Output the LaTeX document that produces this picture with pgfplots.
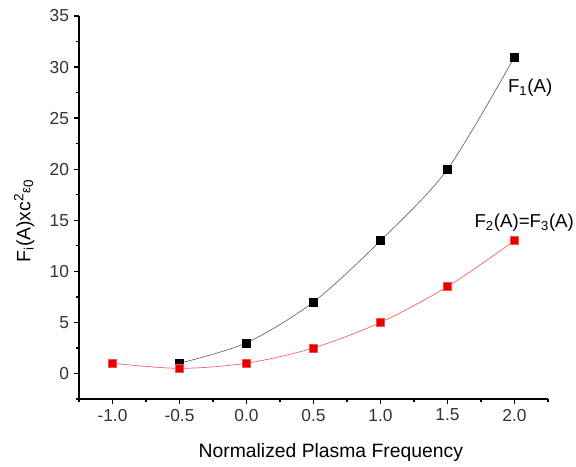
\documentclass[border=0pt]{standalone}
\usepackage{pgfplots}
\pgfplotsset{compat=1.18}
\usepackage{fontspec}
\setmainfont{Liberation Sans}
\begin{document}
\begin{tikzpicture}
\begin{axis}[
    scale only axis,
    width=351.75pt, height=287.25pt,
    xmin=-1.25, xmax=2.25,
    ymin=-2.5, ymax=35,
    axis x line*=bottom,
    axis y line*=left,
    axis line style={black, line width=1pt, -},
    tick align=outside,
    tick style={black, line width=1pt},
    major tick length=4pt,
    minor tick length=2.5pt,
    xtick={-1,-0.5,0,0.5,1,1.5,2},
    minor xtick={-1.25,-0.75,-0.25,0.25,0.75,1.25,1.75,2.25},
    ytick={0,5,...,35},
    minor ytick={-2.5,2.5,7.5,...,32.5},
    /pgf/number format/assume math mode=true,
    xticklabel={\fontsize{13}{15}\selectfont\pgfmathprintnumber[fixed,fixed zerofill,precision=1]{\tick}},
    yticklabel={\fontsize{13}{15}\selectfont\pgfmathprintnumber{\tick}},
    every tick label/.append style={text=black!80},
    xlabel={Normalized Plasma Frequency},
    ylabel={F\textsubscript{i}(A)xc\textsuperscript{2}{\fontsize{10}{11}\selectfont ε}\textsubscript{0}},
    label style={font=\fontsize{14.5}{16}\selectfont},
    xlabel style={at={(axis description cs:0.537,0)}, anchor=center, yshift=-40pt},
    ylabel style={at={(axis description cs:-0.117,0.465)}, anchor=center},
    clip=false,
]
\coordinate (o) at (rel axis cs:0,0);
\addplot[black!60, line width=0.5pt, smooth, mark=square*, mark size=3pt,
    mark options={fill=black, draw=black, line width=0.3pt}] coordinates {
    (-0.5,1) (0,3) (0.5,7) (1,13) (1.5,20) (2,31)
};
\addplot[red!65, line width=0.5pt, smooth, mark=square*, mark size=3pt,
    mark options={fill=red!90!black, draw=red!70, line width=0.3pt}] coordinates {
    (-1,1) (-0.5,0.5) (0,1) (0.5,2.5) (1,5) (1.5,8.5) (2,13)
};
\node[font=\fontsize{14}{16}\selectfont, anchor=west, inner sep=0pt] at (axis cs:1.95,28.0) {F\textsubscript{1}(A)};
\node[font=\fontsize{14}{16}\selectfont, anchor=west, inner sep=0pt] at (axis cs:1.70,14.8) {F\textsubscript{2}(A)=F\textsubscript{3}(A)};
\end{axis}
\pgfresetboundingbox
\path (o) ++(-59.25pt,-51pt) rectangle ++(432pt,350.25pt);
\end{tikzpicture}
\end{document}
